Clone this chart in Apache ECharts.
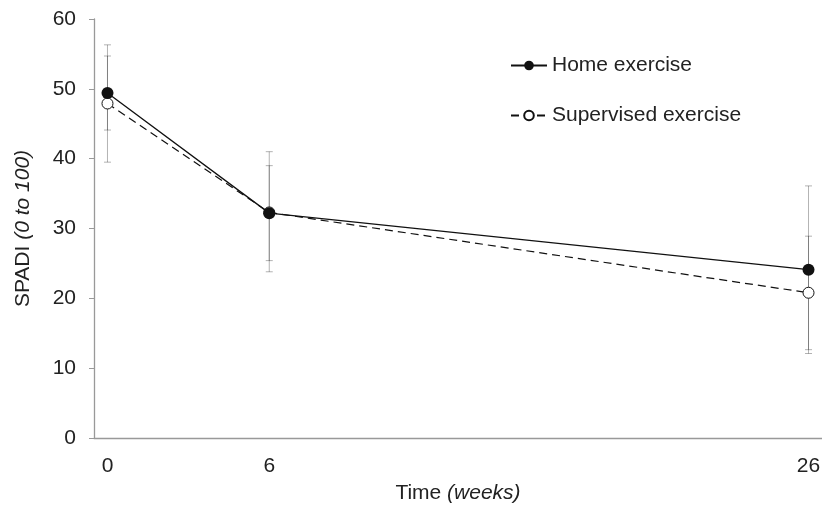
<!DOCTYPE html>
<html><head><meta charset="utf-8">
<script src="https://cdn.jsdelivr.net/npm/echarts@6/dist/echarts.min.js"></script>
<style>html,body{margin:0;padding:0;background:#fff}#c{width:822px;height:506px}</style>
</head><body><div id="c"></div>
<script>
const weeks = [0, 6, 26];
const xTickLabels = [0, 6, 26];
const homeMean = [49.4, 32.2, 24.1];
const homeLow = [44.1, 25.4, 12.1];
const homeHigh = [54.7, 39.0, 36.1];
const supMean = [47.9, 32.3, 20.8];
const supLow = [39.5, 23.8, 12.65];
const supHigh = [56.3, 41.0, 28.9];

const FONT = 'Liberation Sans';
const FS = 21;
const chart = echarts.init(document.getElementById('c'), null, {renderer: 'canvas'});

function errData(low, high) { return weeks.map((w, i) => [w, low[i], high[i]]); }
function errRender(params, api) {
  const x = api.value(0);
  const lo = api.coord([x, api.value(1)]);
  const hi = api.coord([x, api.value(2)]);
  const hw = 3.5;
  const style = {stroke: 'rgba(0,0,0,0.3)', lineWidth: 1, fill: null};
  return {type: 'group', children: [
    {type: 'line', shape: {x1: lo[0], y1: lo[1], x2: hi[0], y2: hi[1]}, style},
    {type: 'line', shape: {x1: lo[0]-hw, y1: lo[1], x2: lo[0]+hw, y2: lo[1]}, style},
    {type: 'line', shape: {x1: hi[0]-hw, y1: hi[1], x2: hi[0]+hw, y2: hi[1]}, style}
  ]};
}

chart.setOption({
  animation: false,
  textStyle: {fontFamily: FONT},
  grid: {left: 94, right: 0, top: 19, bottom: 68, containLabel: false, outerBoundsMode: 'none'},
  legend: {
    orient: 'vertical', left: 510, top: 55, padding: 0, itemWidth: 36, itemHeight: 12, itemGap: 29,
    textStyle: {fontFamily: FONT, fontSize: FS, color: '#222'},
    data: ['Home exercise', 'Supervised exercise']
  },
  xAxis: {
    type: 'value', min: -0.5, max: 26.5,
    name: 'Time {i|(weeks)}', nameLocation: 'middle', nameGap: 45,
    nameTextStyle: {fontFamily: FONT, fontSize: FS, color: '#222',
      rich: {i: {fontStyle: 'italic', fontFamily: FONT, fontSize: FS, color: '#222'}}},
    axisLine: {show: true, onZero: false, lineStyle: {color: '#999', width: 1.3}},
    axisTick: {show: false},
    splitLine: {show: false},
    axisLabel: {customValues: xTickLabels, margin: 18, fontFamily: FONT, fontSize: FS, color: '#222'}
  },
  yAxis: {
    type: 'value', min: 0, max: 60, interval: 10,
    name: 'SPADI {i|(0 to 100)}', nameLocation: 'middle', nameGap: 60, nameRotate: 90,
    nameTextStyle: {fontFamily: FONT, fontSize: FS, color: '#222',
      rich: {i: {fontStyle: 'italic', fontFamily: FONT, fontSize: FS, color: '#222'}}},
    axisLine: {show: true, onZero: false, lineStyle: {color: '#999', width: 1.3}},
    axisTick: {show: true, length: 5, lineStyle: {color: '#999'}},
    splitLine: {show: false},
    axisLabel: {margin: 18, fontFamily: FONT, fontSize: FS, color: '#222'}
  },
  series: [
    {type: 'custom', name: 'errH', data: errData(homeLow, homeHigh), renderItem: errRender, z: 1, silent: true},
    {type: 'custom', name: 'errS', data: errData(supLow, supHigh), renderItem: errRender, z: 1, silent: true},
    {
      type: 'line', name: 'Supervised exercise', data: weeks.map((w, i) => [w, supMean[i]]),
      symbol: 'circle', symbolSize: 11, z: 3,
      lineStyle: {color: '#111', width: 1.2, type: [8, 5]},
      itemStyle: {color: '#fff', borderColor: '#111', borderWidth: 1}
    },
    {
      type: 'line', name: 'Home exercise', data: weeks.map((w, i) => [w, homeMean[i]]),
      symbol: 'circle', symbolSize: 12, z: 4,
      lineStyle: {color: '#111', width: 1.3},
      itemStyle: {color: '#111', borderColor: '#111', borderWidth: 0}
    }
  ]
});
</script></body></html>
